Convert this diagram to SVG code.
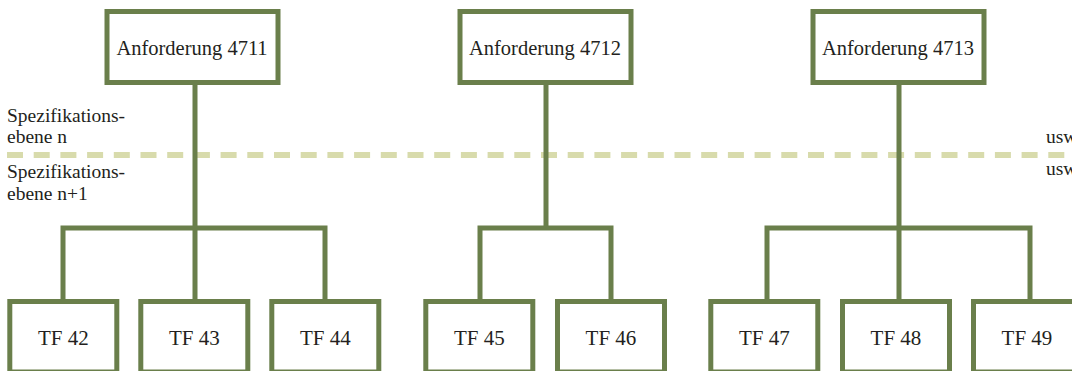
<svg xmlns="http://www.w3.org/2000/svg" width="1072" height="371" viewBox="0 0 1072 371">
  <style>
    .box { fill: #ffffff; stroke: #6a7f4b; stroke-width: 5; }
    .wire { fill: none; stroke: #6a7f4b; stroke-width: 5; stroke-linejoin: miter; }
    .level { fill: none; stroke: #d8dbac; stroke-width: 6; stroke-dasharray: 16 10.7; }
    .t { font-family: "Liberation Serif", "Times New Roman", serif; fill: #231f20; }
    .lbl { font-size: 19.5px; }
    .req { font-size: 20.5px; }
    .tf { font-size: 21px; }
    .c { text-anchor: middle; }
  </style>
  <rect width="1072" height="371" fill="#ffffff"/>

  <!-- level separator and labels -->
  <g id="levels">
    <line class="level" x1="7" y1="155" x2="1072" y2="155"/>
    <text class="t lbl" x="7" y="122">Spezifikations-</text>
    <text class="t lbl" x="7" y="143">ebene n</text>
    <text class="t lbl" x="7" y="178">Spezifikations-</text>
    <text class="t lbl" x="7" y="200">ebene n+1</text>
    <text class="t lbl" x="1046" y="143">usw</text>
    <text class="t lbl" x="1046" y="175">usw</text>
  </g>

  <!-- tree connectors -->
  <g id="connectors">
    <path class="wire" d="M195,84 V299 M63,299 V228 H325 V299"/>
    <path class="wire" d="M546,84 V228 M480,299 V228 H611 V299"/>
    <path class="wire" d="M899,84 V299 M767,299 V228 H1030 V299"/>
  </g>

  <!-- requirements -->
  <g id="req4711"><rect class="box" x="107" y="11.5" width="171" height="71"/><text class="t req c" x="192" y="55">Anforderung 4711</text></g>
  <g id="req4712"><rect class="box" x="460" y="11.5" width="171" height="71"/><text class="t req c" x="545" y="55">Anforderung 4712</text></g>
  <g id="req4713"><rect class="box" x="813" y="11.5" width="171" height="71"/><text class="t req c" x="898" y="55">Anforderung 4713</text></g>

  <!-- test cases -->
  <g id="tf42"><rect class="box" x="9.8" y="301.5" width="107" height="70.5"/><text class="t tf c" x="63.3" y="345">TF 42</text></g>
  <g id="tf43"><rect class="box" x="140.8" y="301.5" width="107" height="70.5"/><text class="t tf c" x="194.3" y="345">TF 43</text></g>
  <g id="tf44"><rect class="box" x="271.8" y="301.5" width="107" height="70.5"/><text class="t tf c" x="325.3" y="345">TF 44</text></g>
  <g id="tf45"><rect class="box" x="425.8" y="301.5" width="107" height="70.5"/><text class="t tf c" x="479.3" y="345">TF 45</text></g>
  <g id="tf46"><rect class="box" x="557.5" y="301.5" width="107" height="70.5"/><text class="t tf c" x="611" y="345">TF 46</text></g>
  <g id="tf47"><rect class="box" x="710.8" y="301.5" width="107" height="70.5"/><text class="t tf c" x="764.3" y="345">TF 47</text></g>
  <g id="tf48"><rect class="box" x="842.5" y="301.5" width="107" height="70.5"/><text class="t tf c" x="896" y="345">TF 48</text></g>
  <g id="tf49"><rect class="box" x="973.5" y="301.5" width="107" height="70.5"/><text class="t tf c" x="1027" y="345">TF 49</text></g>
</svg>
